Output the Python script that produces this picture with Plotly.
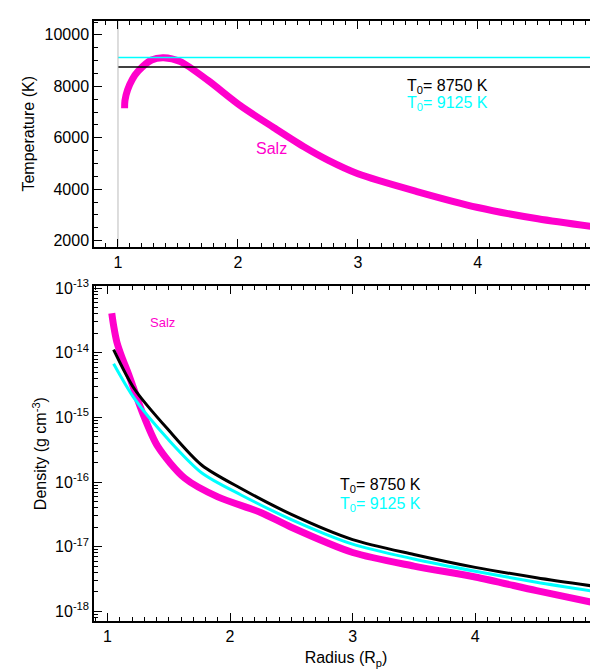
import plotly.graph_objects as go

salz_T_x = [1.055, 1.058, 1.08, 1.12, 1.17, 1.28, 1.38, 1.52, 1.75, 2.02, 2.30, 2.55, 2.75, 3.0, 3.5, 4.0, 4.5, 5.0]
salz_T_y = [7150, 7450, 7860, 8280, 8600, 9025, 9110, 8960, 8230, 7250, 6390, 5650, 5130, 4600, 3900, 3290, 2850, 2520]
T0_vals = [8750, 9125]

salz_x = [1.035, 1.05, 1.076, 1.12, 1.17, 1.28, 1.41, 1.63, 1.9, 2.25, 2.5, 3.0, 3.5, 4.0, 4.5, 5.0]
salz_logrho = [-13.39, -13.58, -13.83, -14.08, -14.32, -14.9, -15.45, -15.94, -16.23, -16.47, -16.7, -17.09, -17.3, -17.47, -17.68, -17.88]
t0_x = [1.05, 1.22, 1.5, 1.77, 2.09, 2.5, 3.0, 3.5, 4.0, 4.5, 5.0]
black_logrho = [-13.95, -14.56, -15.2, -15.74, -16.1, -16.5, -16.89, -17.12, -17.32, -17.48, -17.62]
cyan_logrho = [-14.17, -14.71, -15.35, -15.86, -16.2, -16.58, -16.96, -17.19, -17.38, -17.55, -17.70]

fig = go.Figure()
mag = "#ff00cc"
fig.add_trace(go.Scatter(x=salz_T_x, y=salz_T_y, mode="lines", line=dict(color=mag, width=7, shape="spline", smoothing=0.8),
                         xaxis="x", yaxis="y"))
for v, c in zip(T0_vals, ["black", "cyan"]):
    fig.add_trace(go.Scatter(x=[1, 5], y=[v, v], mode="lines", line=dict(color=c, width=1.5), xaxis="x", yaxis="y"))
fig.add_trace(go.Scatter(x=[1, 1], y=[1770, 10540], mode="lines", line=dict(color="#bbbbbb", width=1), xaxis="x", yaxis="y"))

fig.add_trace(go.Scatter(x=salz_x, y=[10**v for v in salz_logrho], mode="lines", line=dict(color=mag, width=7, shape="spline", smoothing=0.8),
                         xaxis="x2", yaxis="y2"))
fig.add_trace(go.Scatter(x=t0_x, y=[10**v for v in black_logrho], mode="lines", line=dict(color="black", width=3, shape="spline", smoothing=0.8), xaxis="x2", yaxis="y2"))
fig.add_trace(go.Scatter(x=t0_x, y=[10**v for v in cyan_logrho], mode="lines", line=dict(color="cyan", width=3, shape="spline", smoothing=0.8), xaxis="x2", yaxis="y2"))

ax = dict(showgrid=False, zeroline=False, showline=True, linecolor="black", linewidth=1.5, mirror="ticks",
          ticks="inside", ticklen=8, tickcolor="black", tickfont=dict(size=16, color="black"))
xmin = dict(ticks="inside", ticklen=4, dtick=0.1, tick0=0)
fig.update_layout(
    width=598, height=671, margin=dict(l=86, r=6, t=4, b=58), showlegend=False,
    plot_bgcolor="white", paper_bgcolor="white",
    font=dict(family="Liberation Sans, Arial", color="black"),
    xaxis=dict(ax, anchor="y", range=[0.80, 5.002], tickvals=[1, 2, 3, 4, 5], minor=xmin),
    yaxis=dict(ax, domain=[0.624, 1], range=[1770, 10540], tickvals=[2000, 4000, 6000, 8000, 10000],
               ticktext=["2000", "4000", "6000", "8000", "10000"],
               minor=dict(ticks="inside", ticklen=4, dtick=500, tick0=0),
               title=dict(text="Temperature (K)", font=dict(size=16), standoff=6)),
    xaxis2=dict(ax, anchor="y2", range=[0.89, 5.002], tickvals=[1, 2, 3, 4, 5], minor=xmin,
                title=dict(text="Radius (R<sub>p</sub>)", font=dict(size=16), standoff=8)),
    yaxis2=dict(ax, domain=[0, 0.558], type="log", range=[-18.15, -12.97],
                tickvals=[10**e for e in range(-18, -12)],
                ticktext=["10<sup>%d</sup>" % e for e in range(-18, -12)],
                minor=dict(ticks="inside", ticklen=4, dtick="D1"),
                title=dict(text="Density (g cm<sup>-3</sup>)", font=dict(size=16), standoff=4)),
)
ann = [
    dict(x=3.75, y=8000, xref="x", yref="y", text="T<sub>0</sub>= 8750 K", font=dict(color="black", size=16)),
    dict(x=3.75, y=7350, xref="x", yref="y", text="T<sub>0</sub>= 9125 K", font=dict(color="cyan", size=16)),
    dict(x=2.28, y=5600, xref="x", yref="y", text="Salz", font=dict(color=mag, size=16)),
    dict(x=1.45, y=-13.53, xref="x2", yref="y2", text="Salz", font=dict(color=mag, size=13)),
    dict(x=3.23, y=-16.06, xref="x2", yref="y2", text="T<sub>0</sub>= 8750 K", font=dict(color="black", size=16)),
    dict(x=3.23, y=-16.34, xref="x2", yref="y2", text="T<sub>0</sub>= 9125 K", font=dict(color="cyan", size=16)),
]
for a in ann:
    a["showarrow"] = False
fig.update_layout(annotations=ann)
fig.write_html("out.html")
